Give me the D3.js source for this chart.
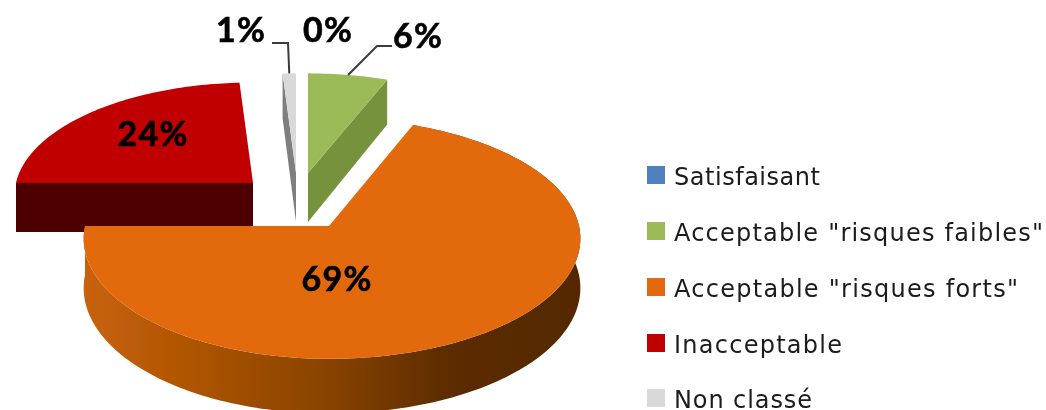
<!DOCTYPE html>
<html><head><meta charset="utf-8">
<script src="https://cdnjs.cloudflare.com/ajax/libs/d3/7.8.5/d3.min.js"></script>
<style>html,body{margin:0;padding:0;background:#fff;overflow:hidden}svg{display:block}</style>
</head><body><svg id="c" width="1046" height="410"></svg>
<script>
const categories = ["Satisfaisant", 'Acceptable "risques faibles"', 'Acceptable "risques forts"', "Inacceptable", "Non classé"];
const values = [0, 6, 69, 24, 1];
const colors = ["#4f81bd", "#9bbb59", "#e26b0a", "#c00000", "#d9d9d9"];
const wallColors = ["#385d8a", "#76923c", "#8a4405", "#4d0000", "#7f7f7f"];

// Exploded position and size of each slice on the page (perspective ellipse)
const geom = [
  {cx:308, cy:173, rxL:236, rxR:236, ry:110},
  {cx:308, cy:173, rxL:236, rxR:236, ry:110},
  {cx:329, cy:226, rxL:244, rxR:250, ry:119},
  {cx:253, cy:183, rxL:237, rxR:237, ry:111},
  {cx:296, cy:173, rxL:236, rxR:236, ry:110}
];
const persp = 0.104, depth = 49;
const labelPos = [[328,42],[418,48],[337,291],[153,146],[241,42]];
const legendY = [175, 231, 287, 343, 398];
const legendWidths = [146, 369, 344, 168, 138];

const svg = d3.select("#c");
const defs = svg.append("defs");
defs.append("filter").attr("id","soft").attr("x","-5%").attr("y","-5%").attr("width","110%").attr("height","110%")
  .append("feGaussianBlur").attr("stdDeviation",0.7);
const grad = defs.append("linearGradient").attr("id","wallGrad").attr("gradientUnits","userSpaceOnUse")
  .attr("x1",85).attr("x2",581).attr("y1",0).attr("y2",0);
[[0,"#c96208"],[0.25,"#a95205"],[0.5,"#874204"],[0.72,"#5e2d01"],[1,"#542800"]].forEach(s=>
  grad.append("stop").attr("offset",s[0]).attr("stop-color",s[1]));

const root = svg.append("g").attr("filter","url(#soft)");
const arcs = d3.pie().sort(null).value(d=>d)(values);
const line = d3.line();

function proj(g, a, r=1, z=0){
  const u = Math.sin(a)*r, v = Math.cos(a)*r, w = 1 + persp*v;
  const rx = u<0 ? g.rxL : g.rxR;
  return [g.cx + rx*u/w, g.cy - g.ry*v/w + z/w];
}
function samples(a0,a1){ const n=Math.max(2,Math.ceil(Math.abs(a1-a0)/0.02)); return d3.range(n+1).map(i=>a0+(a1-a0)*i/n); }
const topFace = (g,d)=>line([[g.cx,g.cy],...samples(d.startAngle,d.endAngle).map(a=>proj(g,a))])+"Z";
const cutWall = (g,a)=>line([[g.cx,g.cy],proj(g,a),proj(g,a,1,depth),[g.cx,g.cy+depth]])+"Z";

// Draw order: back slices first, big slice in front
[4,1,3,2].forEach(i=>{
  const g=geom[i], d=arcs[i];
  if(i===1) root.append("path").attr("d",cutWall(g,d.endAngle)).attr("fill",wallColors[i]);
  if(i===4) root.append("path").attr("d",cutWall(g,d.startAngle)).attr("fill",wallColors[i]);
  if(i===3) root.append("path").attr("d",cutWall(g,d.startAngle)).attr("fill",wallColors[i]);
  if(i===2){
    const as=samples(d.startAngle,d.endAngle);
    root.append("path").attr("fill","url(#wallGrad)")
      .attr("d",line([...as.map(a=>proj(g,a)),...as.slice().reverse().map(a=>proj(g,a,1,depth))])+"Z");
  }
  root.append("path").attr("d",topFace(g,d)).attr("fill",colors[i]);
});

// Leader lines
const mid = i=>proj(geom[i],(arcs[i].startAngle+arcs[i].endAngle)/2);
const leaders=[{i:4,pts:[[272,43],[288,43]]},{i:1,pts:[[392,46],[377,46]]}];
leaders.forEach(l=>root.append("path").attr("fill","none").attr("stroke","#3a3a3a").attr("stroke-width",2)
  .attr("d",line([...l.pts,mid(l.i)])));

// Value labels
root.selectAll("text.v").data(values).join("text").attr("class","v")
  .attr("x",(d,i)=>labelPos[i][0]).attr("y",(d,i)=>labelPos[i][1])
  .attr("text-anchor","middle").attr("font-family","Lato, sans-serif").attr("font-weight",700)
  .attr("font-size",34).attr("letter-spacing",1.2).attr("fill","#000")
  .attr("stroke","#000").attr("stroke-width",0.6).text(d=>d+"%");

// Legend
const lg=root.selectAll("g.l").data(categories).join("g").attr("class","l")
  .attr("transform",(d,i)=>`translate(647,${legendY[i]})`);
lg.append("rect").attr("y",-9).attr("width",18).attr("height",18).attr("fill",(d,i)=>colors[i]);
lg.append("text").attr("x",27).attr("y",10).attr("font-family","'DejaVu Sans', sans-serif")
  .attr("font-size",24).attr("textLength",(d,i)=>legendWidths[i]).attr("lengthAdjust","spacing")
  .attr("fill","#1a1a1a").text(d=>d);
</script></body></html>
